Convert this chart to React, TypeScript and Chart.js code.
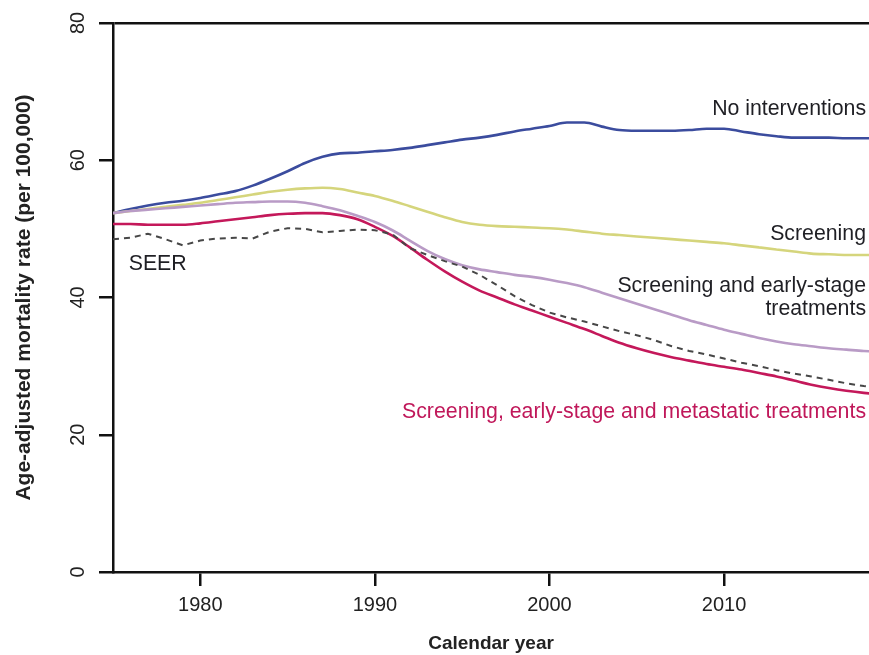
import React, { useEffect, useRef } from "react";
import { Chart, registerables } from "chart.js";

Chart.register(...registerables);

const years = [
  1975, 1976, 1977, 1978, 1979, 1980, 1981, 1982, 1983, 1984,
  1985, 1986, 1987, 1988, 1989, 1990, 1991, 1992, 1993, 1994,
  1995, 1996, 1997, 1998, 1999, 2000, 2001, 2002, 2003, 2004,
  2005, 2006, 2007, 2008, 2009, 2010, 2011, 2012, 2013, 2014,
  2015, 2016, 2017, 2018, 2019,
];

const noInterventions = [
  52.3, 52.9, 53.4, 53.8, 54.1, 54.5, 55.0, 55.5, 56.3, 57.3,
  58.4, 59.6, 60.5, 61.0, 61.1, 61.3, 61.5, 61.8, 62.2, 62.6,
  63.0, 63.3, 63.7, 64.2, 64.6, 65.0, 65.5, 65.5, 64.9, 64.4,
  64.3, 64.3, 64.3, 64.4, 64.6, 64.6, 64.2, 63.8, 63.5, 63.3,
  63.3, 63.3, 63.2, 63.2, 63.2,
];

const screening = [
  52.3, 52.6, 52.9, 53.2, 53.5, 53.8, 54.2, 54.6, 55.0, 55.4,
  55.7, 55.9, 56.0, 55.8, 55.3, 54.8, 54.1, 53.3, 52.5, 51.7,
  51.0, 50.6, 50.4, 50.3, 50.2, 50.1, 49.9, 49.6, 49.3, 49.1,
  48.9, 48.7, 48.5, 48.3, 48.1, 47.9, 47.6, 47.3, 47.0, 46.7,
  46.4, 46.3, 46.2, 46.2, 46.2,
];

const screeningEarly = [
  52.3, 52.6, 52.8, 53.0, 53.2, 53.4, 53.6, 53.8, 53.9, 54.0,
  54.0, 53.8, 53.3, 52.7, 51.9, 51.0, 49.8, 48.3, 46.8, 45.6,
  44.7, 44.1, 43.7, 43.3, 43.0, 42.6, 42.1, 41.5, 40.7, 39.9,
  39.1, 38.3, 37.5, 36.7, 36.0, 35.3, 34.7, 34.1, 33.6, 33.2,
  32.9, 32.6, 32.4, 32.2, 32.1,
];

const screeningEarlyMetastatic = [
  50.7, 50.7, 50.6, 50.6, 50.6, 50.8, 51.1, 51.4, 51.7, 52.0,
  52.2, 52.3, 52.3, 52.0, 51.4, 50.3, 49.0, 47.3, 45.5, 43.8,
  42.3, 41.0, 40.0, 39.0, 38.1, 37.2, 36.3, 35.4, 34.4, 33.4,
  32.6, 31.9, 31.3, 30.8, 30.3, 29.9, 29.5, 29.0, 28.5, 27.9,
  27.3, 26.8, 26.4, 26.1, 25.9,
];

const seer = [
  48.5, 48.7, 49.3, 48.5, 47.6, 48.3, 48.6, 48.7, 48.6, 49.6,
  50.1, 50.0, 49.5, 49.7, 49.9, 49.8, 49.2, 47.2, 46.2, 45.3,
  44.5, 43.3, 41.8, 40.2, 38.9, 37.8, 37.1, 36.5, 35.8, 35.1,
  34.5, 33.8, 32.9, 32.2, 31.7, 31.1, 30.5, 30.0, 29.4, 28.9,
  28.5, 28.0, 27.5, 27.1, 26.8,
];

const xTicks = [1980, 1990, 2000, 2010];
const yTicks = [0, 20, 40, 60, 80];

const seriesLabels = [
  "No interventions",
  "Screening",
  "Screening and early-stage treatments",
  "Screening, early-stage and metastatic treatments",
  "SEER",
];

// annotation labels: text lines, anchor year, anchor value, alignment, colour
const annotations = [
  { lines: ["No interventions"], year: 2018.13, value: 67.5, align: "right", color: "#1f1f24" },
  { lines: ["Screening"], year: 2018.13, value: 49.3, align: "right", color: "#1f1f24" },
  { lines: ["Screening and early-stage", "treatments"], year: 2018.13, value: 41.7, align: "right", color: "#1f1f24" },
  { lines: ["Screening, early-stage and metastatic treatments"], year: 2018.13, value: 23.3, align: "right", color: "#c0185a" },
  { lines: ["SEER"], year: 1975.9, value: 44.9, align: "left", color: "#1f1f24" },
];

const FONT = "'Liberation Sans', Arial, sans-serif";

const labelPlugin = {
  id: "lineLabels",
  afterDatasetsDraw(chart: any) {
    const { ctx, scales } = chart;
    const xs = scales.x;
    const ys = scales.y;
    ctx.save();
    ctx.font = `21.3px ${FONT}`;
    ctx.textBaseline = "middle";
    annotations.forEach((a) => {
      ctx.fillStyle = a.color;
      ctx.textAlign = a.align as CanvasTextAlign;
      const x = xs.getPixelForValue(a.year);
      const y0 = ys.getPixelForValue(a.value);
      a.lines.forEach((line, i) => {
        ctx.fillText(line, x, y0 + i * 23);
      });
    });
    ctx.restore();
  },
};

export default function App() {
  const canvasRef = useRef<HTMLCanvasElement | null>(null);

  useEffect(() => {
    const canvas = canvasRef.current;
    if (!canvas) return;
    const mk = (vals: number[]) => years.map((y, i) => ({ x: y, y: vals[i] }));
    const chart = new Chart(canvas, {
      type: "line",
      data: {
        datasets: [
          {
            label: seriesLabels[4],
            data: mk(seer),
            borderColor: "#474747",
            borderWidth: 2,
            borderDash: [6, 5],
            pointRadius: 0,
            tension: 0,
            fill: false,
          },
          {
            label: seriesLabels[3],
            data: mk(screeningEarlyMetastatic),
            borderColor: "#c4185a",
            borderWidth: 2.6,
            pointRadius: 0,
            cubicInterpolationMode: "monotone",
            fill: false,
          },
          {
            label: seriesLabels[2],
            data: mk(screeningEarly),
            borderColor: "#b99bc6",
            borderWidth: 2.6,
            pointRadius: 0,
            cubicInterpolationMode: "monotone",
            fill: false,
          },
          {
            label: seriesLabels[1],
            data: mk(screening),
            borderColor: "#d5d57c",
            borderWidth: 2.6,
            pointRadius: 0,
            cubicInterpolationMode: "monotone",
            fill: false,
          },
          {
            label: seriesLabels[0],
            data: mk(noInterventions),
            borderColor: "#3b4c9e",
            borderWidth: 2.6,
            pointRadius: 0,
            cubicInterpolationMode: "monotone",
            fill: false,
          },
        ],
      },
      options: {
        animation: false,
        responsive: false,
        maintainAspectRatio: false,
        layout: { padding: { top: 23, right: 0, bottom: 0, left: 0 } },
        plugins: { legend: { display: false }, tooltip: { enabled: false } },
        scales: {
          x: {
            type: "linear",
            min: 1975,
            max: 2018.3,
            afterFit: (s: any) => {
              s.height = 83;
            },
            afterBuildTicks: (s: any) => {
              s.ticks = xTicks.map((v) => ({ value: v }));
            },
            ticks: {
              color: "#222",
              font: { family: FONT, size: 20 },
              padding: 7,
              maxRotation: 0,
              callback: (v: any) => String(v),
            },
            grid: {
              drawOnChartArea: false,
              tickLength: 14,
              color: "#111",
              lineWidth: 2.5,
            },
            border: { display: true, color: "#111", width: 2.5 },
            title: {
              display: true,
              text: "Calendar year",
              color: "#222",
              font: { family: FONT, size: 19, weight: "bold" },
              padding: { top: 0, bottom: 0 },
            },
          },
          y: {
            type: "linear",
            min: 0,
            max: 80,
            afterFit: (s: any) => {
              s.width = 113;
            },
            afterBuildTicks: (s: any) => {
              s.ticks = yTicks.map((v) => ({ value: v }));
            },
            ticks: {
              color: "#222",
              font: { family: FONT, size: 20 },
              padding: 9,
              minRotation: 90,
              maxRotation: 90,
              crossAlign: "center",
              callback: (v: any) => String(v),
            },
            grid: {
              drawOnChartArea: true,
              tickLength: 14,
              color: (c: any) => (c.tick && c.tick.value === 80 ? "#111" : "rgba(0,0,0,0)"),
              tickColor: "#111",
              lineWidth: 2.5,
            },
            border: { display: true, color: "#111", width: 2.5 },
            title: {
              display: true,
              text: "Age-adjusted mortality rate (per 100,000)",
              color: "#222",
              font: { family: FONT, size: 21, weight: "bold" },
              padding: { top: 12, bottom: 0 },
            },
          },
        },
      },
      plugins: [labelPlugin],
    });
    return () => chart.destroy();
  }, []);

  return (
    <div style={{ position: "absolute", left: 0, top: 0, width: 869, height: 655, background: "#fff" }}>
      <canvas ref={canvasRef} width={869} height={655} style={{ width: 869, height: 655, display: "block" }} />
    </div>
  );
}
